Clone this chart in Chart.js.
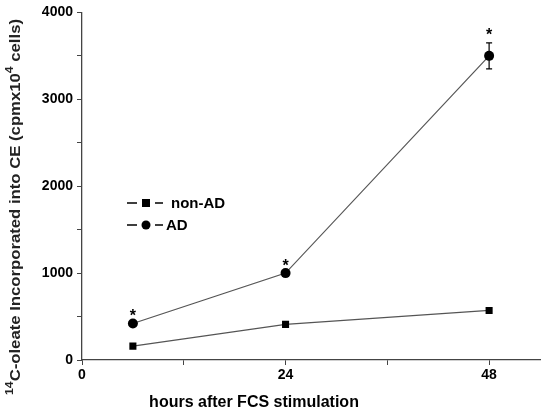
<!DOCTYPE html>
<html>
<head>
<meta charset="utf-8">
<script src="https://cdn.jsdelivr.net/npm/chart.js@4/dist/chart.umd.min.js"></script>
<style>
  html, body { margin: 0; padding: 0; background: #fff; }
  #wrap { width: 545px; height: 414px; }
</style>
</head>
<body>
<div id="wrap"><canvas id="myChart" width="545" height="414"></canvas></div>
<script>
// data ===============================================================
const hours = [6, 24, 48];
const nonAD = [160, 410, 570];
const AD = [420, 1000, 3500];
const errAD = [0, 0, 150];
const starAD = [true, true, true];
const xTicks = [0, 12, 24, 36, 48];
const yTicks = [0, 500, 1000, 1500, 2000, 2500, 3000, 3500, 4000];

const FONT = "'Liberation Sans Narrow', 'Liberation Sans', Arial, sans-serif";

// plugins ===============================================================
function errorBars() {
    return {
        id: 'errorBars',
        afterDatasetsDraw(chart) {
            const ctx = chart.ctx;
            const xs = chart.scales.x, ys = chart.scales.y;
            ctx.save();
            ctx.strokeStyle = '#000';
            ctx.lineWidth = 1.2;
            for (let i = 0; i < hours.length; i++) {
                if (!errAD[i]) continue;
                const x = xs.getPixelForValue(hours[i]);
                const yt = ys.getPixelForValue(AD[i] + errAD[i]);
                const yb = ys.getPixelForValue(AD[i] - errAD[i]);
                ctx.beginPath();
                ctx.moveTo(x, yt); ctx.lineTo(x, yb);
                ctx.moveTo(x - 3, yt); ctx.lineTo(x + 3, yt);
                ctx.moveTo(x - 3, yb); ctx.lineTo(x + 3, yb);
                ctx.stroke();
            }
            // stars
            ctx.fillStyle = '#000';
            ctx.font = 'bold 16px ' + FONT;
            ctx.textAlign = 'center';
            ctx.textBaseline = 'middle';
            for (let i = 0; i < hours.length; i++) {
                if (!starAD[i]) continue;
                const x = xs.getPixelForValue(hours[i]);
                const y = ys.getPixelForValue(AD[i] + errAD[i]) - 10;
                ctx.fillText('*', x, y + 3);
            }
            ctx.restore();
        }
    };
}

function legendBox() {
    return {
        id: 'legendBox',
        afterDraw(chart) {
            const ctx = chart.ctx;
            ctx.save();
            ctx.strokeStyle = '#000';
            ctx.fillStyle = '#000';
            ctx.lineWidth = 1.3;
            const rows = [
                { y: 203, shape: 'square', text: 'non-AD', tx: 171 },
                { y: 225, shape: 'circle', text: 'AD', tx: 166 }
            ];
            rows.forEach(r => {
                ctx.beginPath();
                ctx.moveTo(127, r.y); ctx.lineTo(137, r.y);
                ctx.moveTo(155, r.y); ctx.lineTo(163, r.y);
                ctx.stroke();
                if (r.shape === 'square') {
                    ctx.fillRect(142, r.y - 4, 8, 8);
                } else {
                    ctx.beginPath();
                    ctx.arc(146, r.y, 4.5, 0, Math.PI * 2);
                    ctx.fill();
                }
                ctx.font = 'bold 15px ' + FONT;
                ctx.textBaseline = 'middle';
                ctx.textAlign = 'left';
                ctx.fillText(r.text, r.tx, r.y + 1);
            });
            ctx.restore();
        }
    };
}

function titles() {
    return {
        id: 'titles',
        afterDraw(chart) {
            const ctx = chart.ctx;
            // x title
            ctx.save();
            ctx.fillStyle = '#000';
            ctx.font = 'bold 16px ' + FONT;
            ctx.textAlign = 'center';
            ctx.textBaseline = 'middle';
            ctx.fillText('hours after FCS stimulation', 254, 403);
            ctx.restore();

            // y title, with superscripts, stretched to reference length
            ctx.save();
            ctx.fillStyle = '#222';
            ctx.textBaseline = 'alphabetic';
            ctx.textAlign = 'left';
            const big = 'bold 15px ' + FONT, small = 'bold 11px ' + FONT;
            const parts = [
                ['14', small, -7],
                ['C-oleate Incorporated into CE (cpmx10', big, 0],
                ['4', small, -7],
                [' cells)', big, 0]
            ];
            let total = 0;
            parts.forEach(p => { ctx.font = p[1]; total += ctx.measureText(p[0]).width; });
            ctx.translate(20, 395);
            ctx.rotate(-Math.PI / 2);
            ctx.scale(376 / total, 1);
            let x = 0;
            parts.forEach(p => {
                ctx.font = p[1];
                ctx.fillText(p[0], x, p[2]);
                x += ctx.measureText(p[0]).width;
            });
            ctx.restore();
        }
    };
}

// chart ===============================================================
function plot_line() {
    let ctx = document.getElementById("myChart");
    let data = {
        datasets: [
            {
                label: "non-AD",
                data: hours.map((h, i) => ({ x: h, y: nonAD[i] })),
                borderColor: "#555",
                borderWidth: 1.2,
                pointStyle: 'rect',
                pointRadius: 5,
                pointBackgroundColor: '#000',
                pointBorderColor: '#000',
                pointBorderWidth: 0,
                fill: false,
            },
            {
                label: "AD",
                data: hours.map((h, i) => ({ x: h, y: AD[i] })),
                borderColor: "#555",
                borderWidth: 1.2,
                pointStyle: 'circle',
                pointRadius: 5,
                pointBackgroundColor: '#000',
                pointBorderColor: '#000',
                pointBorderWidth: 0,
                fill: false,
            }
        ]
    };
    let tickFont = { family: FONT, size: 14, weight: "bold" };
    let options = {
        responsive: false,
        animation: false,
        layout: { padding: { top: 12, right: 5, left: 0, bottom: 0 } },
        plugins: {
            legend: { display: false },
            tooltip: { enabled: false },
        },
        scales: {
            x: {
                type: 'linear',
                min: 0,
                max: 54,
                afterBuildTicks: (s) => { s.ticks = xTicks.map(v => ({ value: v })); },
                afterFit: (s) => { s.height = 54; },
                ticks: {
                    font: tickFont, color: '#000', padding: 2, maxRotation: 0,
                    callback: (v) => (v % 24 === 0 ? v : ''),
                },
                grid: { display: true, drawOnChartArea: false, tickLength: 5, color: '#444' },
                border: { display: true, color: '#444', width: 1.3 },
            },
            y: {
                min: 0,
                max: 4000,
                afterBuildTicks: (s) => { s.ticks = yTicks.map(v => ({ value: v })); },
                afterFit: (s) => { s.width = 82; },
                ticks: {
                    font: tickFont, color: '#000', padding: 4,
                    callback: (v) => (v % 1000 === 0 ? v : ''),
                },
                grid: { display: true, drawOnChartArea: false, tickLength: 5, color: '#444' },
                border: { display: true, color: '#444', width: 1.3 },
            },
        },
    };
    new Chart(ctx, {
        type: "line",
        data: data,
        options: options,
        plugins: [errorBars(), legendBox(), titles()]
    });
}

plot_line();
</script>
</body>
</html>
